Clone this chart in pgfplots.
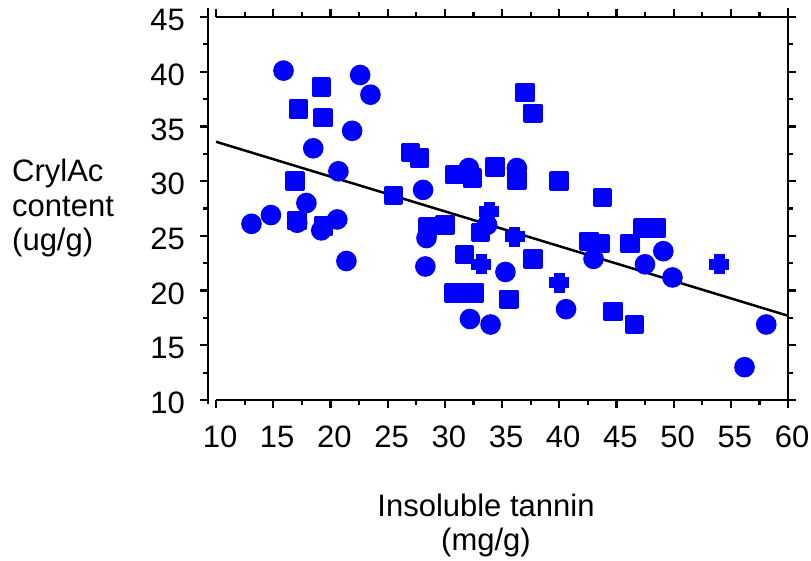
\documentclass[border=0pt]{standalone}
\usepackage{pgfplots}
\pgfplotsset{compat=1.18}
\usepackage{fontspec}
\setmainfont{Liberation Sans}
\definecolor{pblue}{RGB}{0,0,255}
\newcommand{\bigfont}{\fontsize{31}{34}\selectfont}
\begin{document}
\begin{tikzpicture}
\path[use as bounding box] (-208pt,-160pt) rectangle (603pt,400pt);
\begin{axis}[
  at={(0pt,0pt)}, anchor=south west,
  scale only axis, width=580pt, height=383pt,
  xmin=9.3, xmax=60, ymin=10, ymax=45,
  xtick={10,15,...,60}, ytick={10,15,...,45},
  minor x tick num=1, minor y tick num=1,
  tick align=outside,
  major tick length=8pt, minor tick length=5pt,
  every tick/.style={black, line width=2.2pt},
  axis line style={draw=none},
  clip=false,
  /pgf/number format/assume math mode=true,
  ticklabel style={font=\bigfont},
  xticklabel style={inner sep=0pt, anchor=north, yshift=-18pt, xshift=4pt},
  yticklabel style={inner sep=0pt, anchor=east, xshift=-15pt, yshift=-3pt},
]
\draw[line width=2.5pt] (axis cs:10,10) -- (axis cs:60,10);
\draw[line width=2.5pt] (axis cs:10,45) -- (axis cs:60,45);
\draw[line width=2.5pt] (axis cs:9.3,9.6) -- (axis cs:9.3,45.8);
\draw[line width=2.5pt] (axis cs:60,9.6) -- (axis cs:60,45.8);
\addplot[black, line width=2.5pt, no marks] coordinates {(10,33.6) (60,17.7)};
% circles
\addplot[only marks, mark=*, mark size=8.8pt, draw=pblue, fill=pblue, line width=3pt] coordinates {
(13.1,26.1) (14.8,26.9) (15.9,40.1) (17.9,28.0) (18.5,33.0) (20.7,30.9)
(21.4,22.7) (21.9,34.6) (22.6,39.7) (23.5,37.9) (28.1,29.2) (28.3,22.2)
(28.4,24.8) (32.1,31.2) (32.2,17.4) (34.0,16.9) (33.7,26.0) (35.3,21.7)
(36.3,31.2) (40.6,18.3) (43.0,22.9) (47.5,22.4) (56.2,13.0) (58.1,16.9)
(20.6,26.5) (49.1,23.6) (49.9,21.2) (19.2,25.5) (17.1,26.2)
};
% squares
\addplot[only marks, mark=square*, mark size=8pt, draw=pblue, fill=pblue, line width=3.5pt, line join=round] coordinates {
(17.2,36.6) (16.9,30.0) (17.1,26.4) (19.2,38.6) (19.35,35.8) (19.4,25.9)
(25.5,28.7) (27.0,32.6) (27.8,32.1) (28.5,25.8) (30.0,26.0) (30.9,30.6)
(32.4,30.3) (31.7,23.3) (30.8,19.8) (31.7,19.8) (32.6,19.8) (33.1,25.3)
(34.4,31.3) (35.6,19.2) (36.3,30.1) (37.0,38.1) (37.7,36.2) (37.7,22.9)
(40.0,30.0) (42.6,24.5) (43.6,24.3) (43.8,28.5) (44.7,18.1) (46.2,24.3)
(46.6,16.9) (47.3,25.7) (48.5,25.7)
};
% plus-shaped blobs
\addplot[only marks, mark=+, mark size=10pt, draw=pblue, line width=11pt] coordinates {
(33.9,27.2) (33.2,22.4) (36.1,24.9) (40.0,20.7) (54.0,22.4)
};
\end{axis}
\node[anchor=base, inner sep=0pt, font=\bigfont] at (278pt,-116pt) {Insoluble tannin};
\node[anchor=base, inner sep=0pt, font=\bigfont] at (278pt,-150pt) {(mg/g)};
\node[anchor=base west, inner sep=0pt, font=\bigfont] at (-196pt,218pt) {CrylAc};
\node[anchor=base west, inner sep=0pt, font=\bigfont] at (-196pt,184pt) {content};
\node[anchor=base west, inner sep=0pt, font=\bigfont] at (-196pt,150pt) {(ug/g)};
\end{tikzpicture}
\end{document}
